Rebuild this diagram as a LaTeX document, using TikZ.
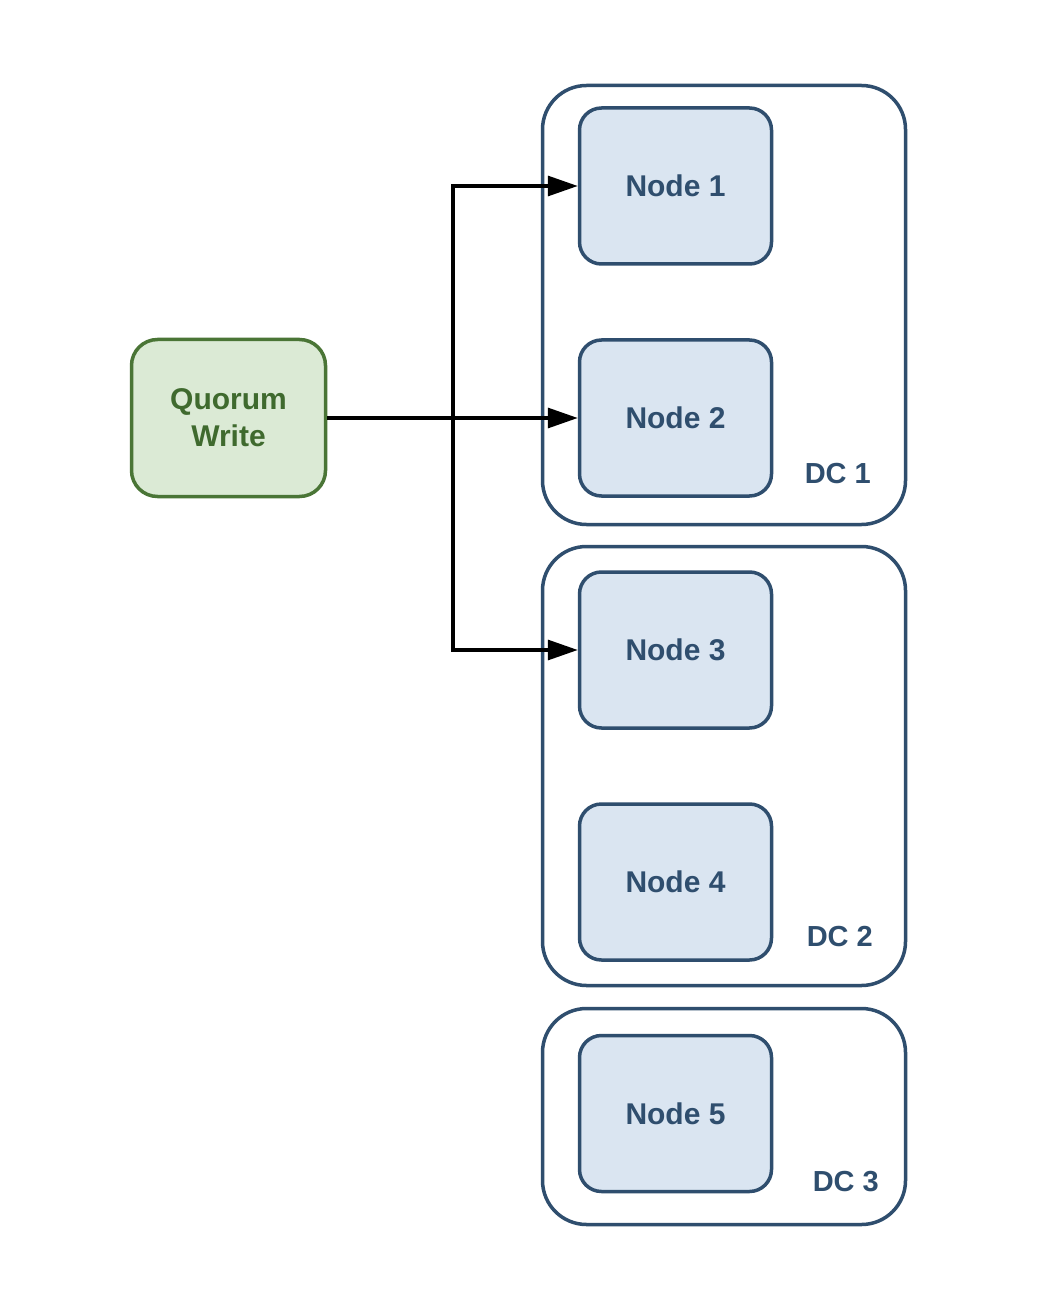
\documentclass[tikz,border=0pt]{standalone}
\usepackage{fontspec}
\setmainfont{Liberation Sans}
\usetikzlibrary{positioning,arrows.meta}

\definecolor{dcblue}{HTML}{2F4E6E}
\definecolor{nodefill}{HTML}{DAE5F1}
\definecolor{qgreen}{HTML}{4A7536}
\definecolor{qtext}{HTML}{3F6A2E}
\definecolor{qfill}{HTML}{DBEAD5}

\tikzset{
  dcbox/.style={draw=dcblue, line width=1.75pt, rounded corners=22pt,
    minimum width=181.5pt, inner sep=0pt},
  nodebox/.style={draw=dcblue, fill=nodefill, line width=1.75pt, rounded corners=11pt,
    minimum width=96pt, minimum height=78pt, text=dcblue,
    font=\fontsize{15}{18}\selectfont\bfseries},
  qbox/.style={draw=qgreen, fill=qfill, line width=1.75pt, rounded corners=13pt,
    minimum width=97pt, minimum height=78.5pt, text=qtext, align=center,
    font=\fontsize{15}{18.5}\selectfont\bfseries},
  dclabel/.style={text=dcblue, inner sep=0pt, font=\fontsize{14.5}{17}\selectfont\bfseries},
  writearrow/.style={line width=1.6pt, -{Triangle[length=15pt,width=10pt]}}
}

\begin{document}
\begin{tikzpicture}[x=0.5pt,y=-0.5pt]
\useasboundingbox[fill=white] (0,0) rectangle (1056,1294);

\coordinate (J) at (453,418);

\node[dcbox, minimum height=219.5pt] (DC1) at (724,305) {};
\node[dcbox, minimum height=219.5pt] (DC2) at (724,766) {};
\node[dcbox, minimum height=108pt] (DC3) at (724,1116.5) {};

\node[qbox] (Q) at (228.5,418) {Quorum\\Write};

\node[nodebox] (N1) at (675.5,186) {Node 1};
\node[nodebox] (N2) at (675.5,418) {Node 2};
\node[nodebox] (N3) at (675.5,650) {Node 3};
\node[nodebox] (N4) at (675.5,882) {Node 4};
\node[nodebox] (N5) at (675.5,1113.5) {Node 5};

\node[dclabel, above left=21pt and 18pt of DC1.south east] (L1) {DC 1};
\node[dclabel, above left=20pt and 17pt of DC2.south east] (L2) {DC 2};
\node[dclabel, above left=17pt and 14pt of DC3.south east] (L3) {DC 3};

\draw[writearrow] (Q) -- (N2);
\draw[writearrow] (J) |- (N1);
\draw[writearrow] (J) |- (N3);
\end{tikzpicture}
\end{document}
